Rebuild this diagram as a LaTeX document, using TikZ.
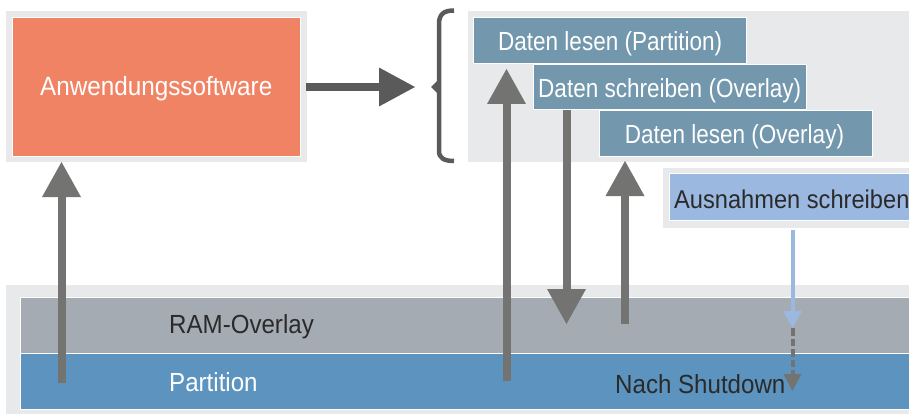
\documentclass[tikz,border=0pt]{standalone}
\usepackage{fontspec}
\setmainfont{Liberation Sans}[FakeStretch=0.92]
\newfontfamily\tealfont{Liberation Sans}[FakeStretch=0.86]
\usetikzlibrary{arrows.meta}
\definecolor{panel}{HTML}{E8E9EB}
\definecolor{orangebox}{HTML}{F18365}
\definecolor{tealbox}{HTML}{7398AD}
\definecolor{bluebox}{HTML}{9AB8E0}
\definecolor{ramgray}{HTML}{A4ABB2}
\definecolor{partblue}{HTML}{5C94BF}
\definecolor{arrowgray}{HTML}{737372}
\definecolor{darkarrow}{HTML}{5A5A5A}
\definecolor{inktext}{HTML}{2A2A2A}
\tikzset{
  txt/.style={font=\fontsize{26.2}{30}\selectfont,inner sep=0pt},
  panelbox/.style={fill=panel,draw=none},
  rbox/.style={draw=white,line width=1pt,inner sep=0pt,txt,text=white},
  tealstep/.style={rbox,font=\tealfont\fontsize{26.2}{30}\selectfont,fill=tealbox,minimum width=273pt,minimum height=45.5pt,text depth=0pt},
  bigarrow/.style={draw=arrowgray,line width=8pt,-{Triangle[length=35pt,width=39pt,fill=arrowgray,line width=0pt]}},
  layer/.style={draw=white,line width=1.4pt,minimum width=892pt,minimum height=56pt,inner sep=0pt,anchor=north west},
}
\begin{document}
\begin{tikzpicture}[x=1pt,y=-1pt]
\useasboundingbox (0,0) rectangle (909,414);
% panels
\fill[panelbox] (6,11) rectangle (307,162);
\fill[panelbox] (468,11) rectangle (909,162);
\fill[panelbox] (663,168) rectangle (909,228);
\fill[panelbox] (6,285) rectangle (909,414);
% boxes
\node[rbox,fill=orangebox,minimum width=288pt,minimum height=139pt] (app) at (156.2,87) {};
\node[txt,font=\fontsize{26.4}{30}\selectfont,text=white] (apptext) at (156.2,89) {Anwendungssoftware};
\node[tealstep] (read1) at (610.2,40.5) {};
\node[tealstep] (write) at (669.7,87) {};
\node[tealstep] (read2) at (736,133.5) {};
\node[tealstep,draw=none,fill=none] (read1t) at (610.2,41.2) {Daten lesen (Partition)};
\node[tealstep,draw=none,fill=none] (writet) at (669.7,87.8) {Daten schreiben (Overlay)};
\node[tealstep,draw=none,fill=none] (read2t) at (734.5,134.2) {Daten lesen (Overlay)};
\node[rbox,fill=bluebox,minimum width=242pt,minimum height=46.5pt,anchor=west] (exc) at (669,197) {};
\node[txt,font=\fontsize{25.7}{30}\selectfont,text=inktext,anchor=west] (exctext) at (674,199) {Ausnahmen schreiben};
% layers
\node[layer,fill=ramgray] (ram) at (20,296.8) {};
\node[layer,fill=partblue] (part) at (20,353) {};
\node[txt,text=inktext,anchor=west] (ramlabel) at (169,327) {RAM-Overlay};
\node[txt,text=white,anchor=west] (partlabel) at (169,382) {Partition};
\node[txt,text=inktext,anchor=west] (shut) at (615,384) {Nach Shutdown};
% brace
\coordinate (bracetip) at (431,87);
\draw[darkarrow,line width=4.5pt,line join=round]
  (454,10.5) .. controls (444,10.5) and (439,14) .. (439,24) -- (439,151) .. controls (439,158) and (444,161) .. (454,161);
\fill[darkarrow] (bracetip) -- (437,81) -- (437,93) -- cycle;
% connector endpoints
\coordinate (s1) at (61.5,383); \coordinate (t1) at (61.5,162);
\coordinate (s2) at (506.5,381); \coordinate (t2) at (506.5,69);
\coordinate (s3) at (566.5,110); \coordinate (t3) at (566.5,324);
\coordinate (s4) at (625,324); \coordinate (t4) at (625,161);
\coordinate (s5) at (792.5,230); \coordinate (t5) at (792.5,328);
\coordinate (t6) at (792.5,391);
\coordinate (hs) at (306,87); \coordinate (ht) at (415,87);
% connectors
\draw[bigarrow] (s1) -- (t1);
\draw[bigarrow] (s2) -- (t2);
\draw[bigarrow] (s3) -- (t3);
\draw[bigarrow] (s4) -- (t4);
\draw[bigarrow,draw=darkarrow,-{Triangle[length=36pt,width=39pt,fill=darkarrow,line width=0pt]}] (hs) -- (ht);
\draw[draw=arrowgray,line width=4pt,dash pattern=on 7.5pt off 3pt,-{Triangle[length=17pt,width=18pt,fill=arrowgray,line width=0pt,sep=0pt]}] (t5) -- (t6);
\draw[draw=bluebox,line width=4pt,-{Triangle[length=17pt,width=19pt,fill=bluebox,line width=0pt]}] (s5) -- (t5);
\end{tikzpicture}
\end{document}
